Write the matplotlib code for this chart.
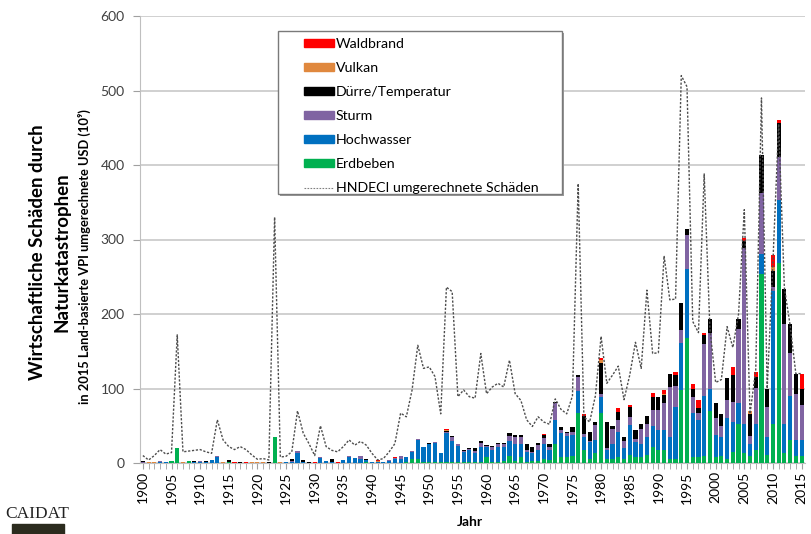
import matplotlib
matplotlib.use("Agg")
import matplotlib.pyplot as plt
from matplotlib.patches import Patch, Rectangle
from matplotlib.lines import Line2D

# Schriftart (Calibri-ähnlich), DejaVu als Ersatz für fehlende Zeichen
plt.rcParams['font.family'] = ['Lato', 'DejaVu Sans']

# Jahre
jahre = list(range(1900, 2016))

# Schäden nach Kategorie (Mrd. USD), aus dem Bild geschätzt
erdbeben = [0, 0, 0, 0, 0, 3, 20, 0, 3, 0,
            0, 0, 0, 0, 0, 2, 0, 0, 0, 0,
            0, 0, 0, 35, 0, 0, 0, 0, 0, 0,
            0, 0, 0, 0, 0, 0, 0, 0, 0, 2,
            0, 0, 0, 0, 0, 0, 1, 6, 5, 2,
            1, 1, 1, 2, 1, 1, 1, 2, 1, 2,
            8, 2, 2, 3, 10, 3, 8, 2, 3, 3,
            5, 4, 26, 8, 8, 10, 67, 17, 6, 13,
            67, 5, 5, 8, 5, 11, 8, 8, 11, 22,
            17, 17, 5, 5, 98, 168, 8, 8, 10, 70,
            8, 10, 6, 15, 53, 13, 10, 17, 254, 11,
            53, 268, 13, 31, 9, 9]
hochwasser = [0, 0, 0, 2, 1, 0, 0, 0, 0, 1,
              2, 2, 4, 8, 0, 0, 0, 0, 0, 0,
              0, 0, 0, 0, 0, 1, 1, 14, 1, 0,
              0, 7, 3, 1, 0, 4, 8, 7, 6, 2,
              1, 1, 1, 3, 5, 6, 7, 9, 26, 19,
              24, 26, 12, 38, 28, 22, 14, 15, 13, 19,
              13, 16, 19, 18, 20, 22, 18, 13, 10, 15,
              20, 14, 32, 32, 28, 27, 29, 18, 22, 18,
              22, 12, 20, 34, 15, 40, 20, 18, 24, 27,
              27, 27, 30, 70, 63, 93, 59, 50, 80, 30,
              30, 25, 55, 40, 27, 40, 16, 36, 27, 24,
              178, 85, 40, 59, 22, 22]
sturm = [1, 0, 0, 1, 0, 0, 0, 0, 0, 1,
         1, 0, 0, 1, 0, 0, 0, 0, 0, 0,
         0, 0, 0, 0, 0, 0, 2, 2, 1, 0,
         0, 1, 0, 1, 0, 0, 1, 0, 3, 0,
         0, 0, 0, 1, 2, 3, 0, 1, 1, 1,
         1, 1, 1, 2, 6, 2, 1, 2, 2, 6,
         2, 4, 4, 4, 6, 10, 9, 3, 2, 6,
         9, 4, 22, 4, 4, 4, 20, 4, 2, 20,
         3, 3, 20, 16, 10, 11, 4, 20, 18, 22,
         27, 36, 67, 28, 17, 45, 22, 9, 70, 75,
         22, 15, 23, 27, 100, 236, 10, 48, 81, 40,
         5, 58, 134, 58, 62, 47]
duerre = [2, 0, 0, 0, 0, 0, 0, 0, 0, 1,
          0, 1, 0, 0, 0, 2, 0, 1, 0, 0,
          0, 0, 1, 0, 0, 1, 2, 0, 2, 1,
          0, 0, 0, 3, 0, 0, 0, 0, 1, 2,
          1, 0, 0, 0, 0, 0, 0, 0, 0, 0,
          1, 0, 0, 1, 1, 0, 1, 1, 4, 2,
          1, 1, 2, 2, 4, 3, 3, 7, 7, 3,
          3, 3, 2, 4, 2, 7, 2, 24, 12, 4,
          42, 35, 5, 11, 5, 13, 12, 6, 10, 18,
          18, 11, 18, 15, 37, 8, 11, 7, 12, 18,
          20, 16, 30, 36, 13, 9, 30, 14, 51, 24,
          22, 45, 47, 38, 27, 22]
vulkan = [0, 1, 1, 0, 1, 0, 0, 1, 0, 0,
          0, 0, 0, 0, 1, 0, 0, 0, 0, 1,
          1, 1, 0, 0, 1, 0, 0, 0, 0, 0,
          0, 0, 0, 0, 0, 0, 0, 0, 0, 0,
          0, 2, 0, 0, 0, 0, 0, 0, 0, 0,
          0, 0, 0, 1, 0, 0, 0, 0, 0, 0,
          0, 0, 0, 0, 0, 0, 0, 0, 0, 0,
          0, 0, 0, 0, 0, 0, 0, 0, 0, 0,
          4, 0, 0, 0, 0, 0, 0, 0, 0, 0,
          0, 2, 0, 0, 0, 0, 0, 0, 0, 0,
          0, 0, 0, 0, 0, 0, 4, 0, 0, 0,
          5, 0, 0, 0, 0, 0]
waldbrand = [0, 0, 0, 0, 0, 0, 0, 0, 0, 0,
             0, 0, 0, 0, 0, 0, 1, 1, 1, 0,
             0, 0, 1, 0, 0, 0, 0, 0, 0, 1,
             1, 0, 0, 0, 2, 0, 0, 0, 0, 0,
             0, 1, 1, 0, 1, 0, 0, 0, 0, 0,
             0, 0, 0, 1, 0, 0, 0, 0, 0, 0,
             0, 0, 0, 0, 0, 0, 0, 0, 0, 0,
             2, 0, 0, 0, 0, 0, 0, 3, 0, 0,
             3, 0, 0, 5, 0, 3, 0, 0, 0, 5,
             0, 5, 0, 4, 0, 0, 6, 11, 3, 0,
             0, 0, 0, 11, 0, 4, 0, 7, 0, 0,
             16, 4, 0, 0, 0, 20]

# HNDECI umgerechnete Schäden (gestrichelte Linie)
hndeci = [10, 4, 10, 18, 12, 14, 172, 15, 16, 17,
          18, 15, 13, 58, 31, 22, 18, 22, 18, 11,
          5, 6, 4, 330, 8, 9, 15, 70, 40, 26,
          10, 50, 22, 17, 15, 22, 31, 24, 29, 24,
          13, 4, 6, 15, 26, 67, 62, 98, 158, 127,
          129, 116, 66, 236, 230, 89, 98, 89, 87, 147,
          93, 102, 107, 102, 138, 93, 84, 58, 49, 62,
          55, 52, 86, 72, 66, 90, 375, 62, 55, 90,
          170, 107, 118, 130, 85, 118, 162, 127, 232, 147,
          148, 278, 219, 220, 520, 505, 190, 175, 388, 180,
          108, 112, 183, 155, 200, 340, 66, 125, 490, 100,
          270, 455, 235, 185, 120, 120]

# Reihenfolge von unten nach oben
serien = [
    ("Erdbeben", erdbeben, "#00B050"),
    ("Hochwasser", hochwasser, "#0070C0"),
    ("Sturm", sturm, "#8064A2"),
    ("Dürre/Temperatur", duerre, "#000000"),
    ("Vulkan", vulkan, "#E0883E"),
    ("Waldbrand", waldbrand, "#FF0000"),
]

fig = plt.figure(figsize=(8.11, 5.34), dpi=100)
ax = fig.add_axes([140 / 811, 71 / 534, 665 / 811, 447 / 534])

unten = [0] * len(jahre)
for name, werte, farbe in serien:
    ax.bar(jahre, werte, bottom=unten, width=0.72, color=farbe, linewidth=0, zorder=3)
    unten = [u + w for u, w in zip(unten, werte)]

ax.plot(jahre, hndeci, color="#4d4d4d", linewidth=1.0, linestyle=(0, (1.6, 1.2)), zorder=4)

# Achsen
ax.set_xlim(1899.5, 2015.6)
ax.set_ylim(0, 600)
ax.set_yticks(range(0, 601, 100))
ax.set_xticks(range(1900, 2016, 5))
ax.set_xticks(range(1900, 2016), minor=True)
ax.tick_params(axis='x', which='major', rotation=90, labelsize=10, length=4, color="#a0a0a0", pad=2)
ax.tick_params(axis='x', which='minor', length=4, color="#a0a0a0")
ax.tick_params(axis='y', labelsize=10, length=5, color="#a0a0a0", labelcolor="#404040", pad=6)
ax.grid(axis='y', color="#c8c8c8", linewidth=1.2, zorder=0)
ax.set_axisbelow(True)
for s in ['top', 'right']:
    ax.spines[s].set_visible(False)
ax.spines['left'].set_color("#bfbfbf")
ax.spines['bottom'].set_color("#bfbfbf")

# Legende: Rahmen selbst zeichnen (breiter linker Rand wie im Original)
x0, x1 = (278 - 140) / 665, (562 - 140) / 665
y0, y1 = (463 - 194) / 447, (463 - 31) / 447
ax.add_patch(Rectangle((x0 + 0.003, y0 - 0.005), x1 - x0, y1 - y0, transform=ax.transAxes,
                       facecolor="#9a9a9a", edgecolor="none", zorder=5))
ax.add_patch(Rectangle((x0, y0), x1 - x0, y1 - y0, transform=ax.transAxes,
                       facecolor="white", edgecolor="#7a7a7a", linewidth=1.0, zorder=5))

handles = [Patch(color=f, label=n) for n, _, f in serien[::-1]]
handles.append(Line2D([0], [0], color="#808080", linewidth=0.8, linestyle=(0, (1.5, 1.2)),
                      label="HNDECI umgerechnete Schäden"))
leg = ax.legend(handles=handles, loc='upper left', bbox_to_anchor=((304 - 140) / 665, (463 - 38) / 447),
                fontsize=10.2, frameon=False, handlelength=2.1, handleheight=0.5,
                handletextpad=0.15, labelspacing=0.85, borderpad=0, borderaxespad=0)
leg.set_zorder(6)

# Beschriftungen
fig.text(38 / 811, 1 - 252 / 534, "Wirtschaftliche Schäden durch", rotation=90,
         fontsize=13.5, fontweight='bold', ha='center', va='center')
fig.text(62 / 811, 1 - 252 / 534, "Naturkatastrophen", rotation=90,
         fontsize=13.5, fontweight='bold', ha='center', va='center')
fig.text(84 / 811, 1 - 257 / 534, "in 2015 Land-basierte VPI umgerechnete USD (10⁹)", rotation=90,
         fontsize=9.3, fontweight='bold', ha='center', va='center')
fig.text(470 / 811, 1 - 522 / 534, "Jahr", fontsize=10, fontweight='bold', ha='center', va='center')

# CAIDAT Logo
fig.text(37 / 811, 1 - 514 / 534, "CAIDAT", fontsize=12.5, family='Liberation Serif',
         ha='center', va='center', color="#222222")
fig.patches.append(Rectangle((12 / 811, 0), 52 / 811, 10 / 534, transform=fig.transFigure,
                             color="#2b2b1e", zorder=1))

fig.savefig("out.png", dpi=100)
